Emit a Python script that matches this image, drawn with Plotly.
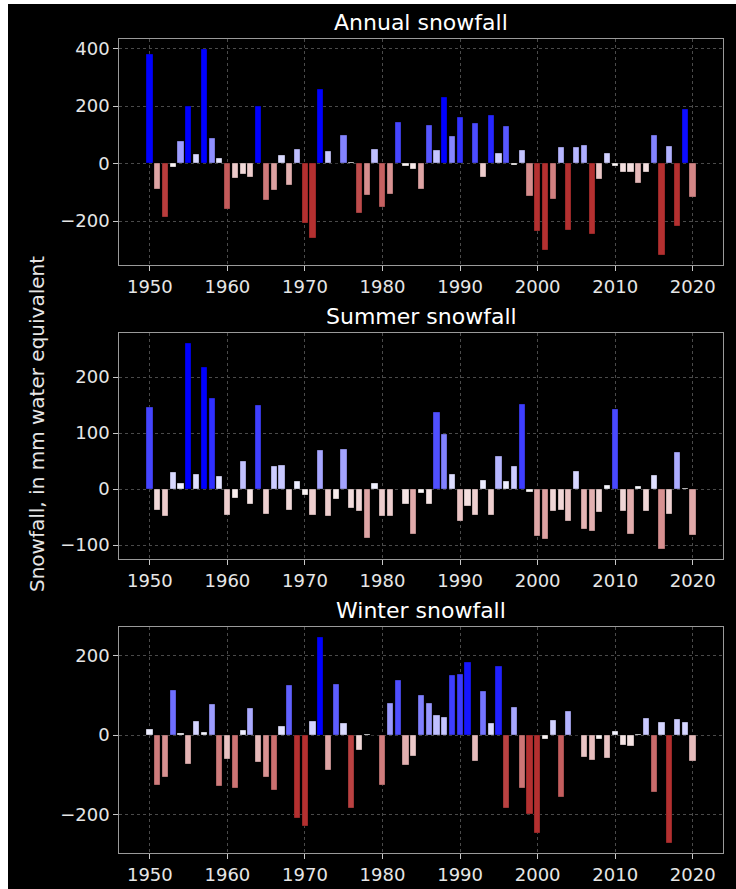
import plotly.graph_objects as go

# Yearly snowfall anomalies, mm water equivalent
years = list(range(1950, 2021))

annual = [
    380, -88, -188, -12, 77, 200, 32, 397, 88, 20,
    -158, -52, -37, -49, 200, -129, -91, 29, -76, 51,
    -206, -260, 258, 44, 2, 97, 3, -173, -109, 50,
    -153, -105, 145, -10, -20, -88, 132, 46, 230, 95,
    161, None, 140, -49, 170, 36, 131, -6, 46, -112,
    -236, -302, -123, 57, -231, 57, 64, -246, -54, 36,
    -8, -31, -31, -69, -31, 97, -318, 61, -218, 190,
    -117,
]

summer = [
    146, -38, -49, 30, 11, 260, 26, 217, 163, 23,
    -47, -16, 49, -27, 150, -45, 40, 43, -37, 14,
    -11, -46, 70, -48, -18, 72, -35, -40, -87, 11,
    -49, -48, None, -27, -81, -8, -27, 137, 98, 27,
    -57, -31, -46, 16, -46, 58, 14, 40, 151, -5,
    -85, -90, -40, -38, -57, 32, -72, -76, -42, 6,
    143, -40, -80, 5, -40, 24, -107, -45, 65, 1,
    -83,
]

winter = [
    14, -127, -106, 113, 5, -73, 34, 8, 78, -128,
    -60, -134, 13, 67, -68, -105, -138, 23, 124, -209,
    -229, 34, 245, -88, 127, 29, -184, -39, 2, -1,
    -127, 79, 138, -77, -52, 100, 81, 50, 46, 151,
    153, 183, -66, 109, 30, 174, -183, 69, -133, -200,
    -247, -10, 36, -156, 60, -1, -56, -64, -11, -58,
    9, -26, -28, 3, 42, -143, 33, -271, 39, 33,
    -66,
]

panel_titles = ["Annual snowfall", "Summer snowfall", "Winter snowfall"]
panel_values = [annual, summer, winter]
y_tick_values = [[-200, 0, 200, 400], [-100, 0, 100, 200], [-200, 0, 200]]
x_tick_values = list(range(1950, 2021, 10))
y_label = "Snowfall, in mm water equivalent"

# ---- layout geometry (pixels) ----
W, H = 736, 889
PLOT_LEFT, PLOT_RIGHT = 119.3, 723.3
PANEL_TOPS = [39.3, 333.3, 627.3]
PANEL_H = 226.0
BAR_WIDTH = 0.8
FONT = "DejaVu Sans"

NEG_END = (180, 48, 48)   # brick red for the most negative anomalies
POS_END = (0, 0, 255)     # pure blue for the most positive anomalies


def bar_color(v, limit=200.0):
    """Diverging red-white-blue colour scale, clipped at +/- limit."""
    if v is None:
        return "rgba(0,0,0,0)"
    f = max(-1.0, min(1.0, v / limit))
    end = POS_END if f >= 0 else NEG_END
    f = abs(f)
    r, g, b = (255 + (c - 255) * f for c in end)
    return f"rgb({r:.0f},{g:.0f},{b:.0f})"


def padded_range(vals, pad=0.05):
    v = [x for x in vals if x is not None] + [0]
    lo, hi = min(v), max(v)
    span = hi - lo
    return [lo - pad * span, hi + pad * span]


x_lo = years[0] - BAR_WIDTH / 2
x_hi = years[-1] + BAR_WIDTH / 2
x_pad = 0.05 * (x_hi - x_lo)
x_range = [x_lo - x_pad, x_hi + x_pad]

fig = go.Figure()
layout = dict(
    width=W,
    height=H,
    margin=dict(l=0, r=0, t=0, b=0),
    paper_bgcolor="white",
    plot_bgcolor="black",
    showlegend=False,
    font=dict(family=FONT, color="#e6e6e6", size=18),
    bargap=0,
    annotations=[],
    shapes=[
        dict(type="rect", xref="paper", yref="paper",
             x0=8 / W, x1=1, y0=0, y1=1 - 4 / H,
             fillcolor="black", line=dict(width=0), layer="below"),
    ],
)

axis_common = dict(
    showline=True, linecolor="#9a9a9a", linewidth=1, mirror=True,
    ticks="outside", ticklen=5, tickwidth=1, tickcolor="#c8c8c8",
    showgrid=True, gridcolor="#4a4a4a", gridwidth=0.7, griddash="dot",
    zeroline=False, tickfont=dict(family=FONT, size=18, color="#e6e6e6"),
)

for i, (title, vals, yt) in enumerate(zip(panel_titles, panel_values, y_tick_values)):
    n = i + 1
    xa = "x" if n == 1 else f"x{n}"
    ya = "y" if n == 1 else f"y{n}"
    top = PANEL_TOPS[i]
    bottom = top + PANEL_H
    y_dom = [1 - bottom / H, 1 - top / H]

    fig.add_trace(go.Bar(
        x=years, y=vals, width=BAR_WIDTH,
        marker=dict(color=[bar_color(v) for v in vals],
                    line=dict(color="rgba(0,0,0,0.55)", width=0.6)),
        xaxis=xa, yaxis=ya, hoverinfo="x+y",
    ))

    layout[f"xaxis{'' if n == 1 else n}"] = dict(
        axis_common, domain=[PLOT_LEFT / W, PLOT_RIGHT / W], anchor=ya,
        range=x_range, tickmode="array", tickvals=x_tick_values,
    )
    layout[f"yaxis{'' if n == 1 else n}"] = dict(
        axis_common, domain=y_dom, anchor=xa,
        range=padded_range(vals), tickmode="array", tickvals=yt,
        ticktext=[str(t).replace("-", "\u2212") for t in yt],
    )

    layout["annotations"].append(dict(
        text=title, xref="paper", yref="paper",
        x=(PLOT_LEFT + PLOT_RIGHT) / 2 / W, y=1 - (top - 17) / H,
        xanchor="center", yanchor="middle", showarrow=False,
        font=dict(family=FONT, size=22, color="white"),
    ))

layout["annotations"].append(dict(
    text=y_label, xref="paper", yref="paper",
    x=37 / W, y=1 - 424 / H, xanchor="center", yanchor="middle",
    textangle=-90, showarrow=False,
    font=dict(family=FONT, size=20, color="#e6e6e6"),
))

fig.update_layout(**layout)
fig.write_html("out.html")
